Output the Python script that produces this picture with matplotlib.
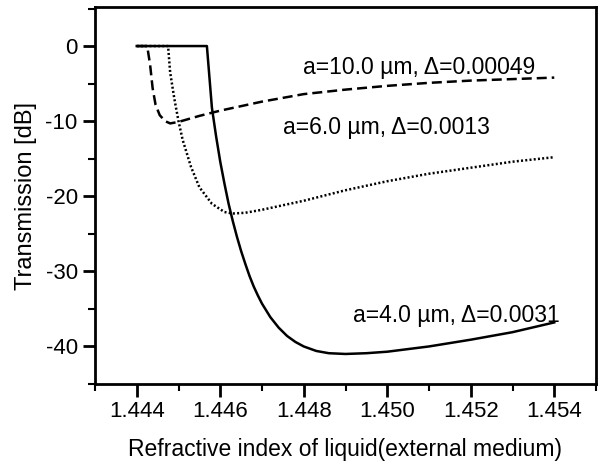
import matplotlib
matplotlib.use("Agg")
import matplotlib.pyplot as plt
from matplotlib.ticker import MultipleLocator

plt.rcParams['font.family'] = ['Liberation Sans', 'DejaVu Sans']
plt.rcParams['axes.unicode_minus'] = False

# a=4.0 um, delta=0.0031 (solid)
n_a4 = [1.4440, 1.44568, 1.4458, 1.4459, 1.4460, 1.4461, 1.4462, 1.4463, 1.4464, 1.4465,
        1.4466, 1.4467, 1.4468, 1.4469, 1.4470, 1.4472, 1.4474, 1.4476, 1.4478, 1.4480,
        1.4483, 1.4486, 1.4490, 1.4495, 1.4500, 1.4510, 1.4520, 1.4530, 1.4540]
t_a4 = [0.0, 0.0, -8.2, -12.0, -15.4, -18.3, -21.0, -23.3, -25.4, -27.3,
        -29.0, -30.6, -32.0, -33.2, -34.3, -36.1, -37.5, -38.6, -39.4, -40.0,
        -40.6, -40.9, -41.0, -40.9, -40.7, -40.0, -39.1, -38.1, -36.8]

# a=10.0 um, delta=0.00049 (dashed)
n_a10 = [1.4440, 1.44425, 1.44432, 1.44438, 1.44445, 1.44455, 1.44468, 1.4448, 1.4450,
         1.4455, 1.4460, 1.4470, 1.4480, 1.4490, 1.4500, 1.4510, 1.4520, 1.4530, 1.4540]
t_a10 = [0.0, 0.0, -2.5, -5.6, -7.8, -9.2, -10.0, -10.3, -10.1,
         -9.3, -8.6, -7.4, -6.4, -5.8, -5.3, -4.9, -4.6, -4.4, -4.2]

# a=6.0 um, delta=0.0013 (dotted)
n_a6 = [1.4440, 1.44475, 1.4448, 1.4449, 1.4450, 1.4451, 1.4453, 1.4455, 1.4458, 1.4461,
        1.4463, 1.4466, 1.4470, 1.4475, 1.4480, 1.4490, 1.4500, 1.4510, 1.4520, 1.4530, 1.4540]
t_a6 = [0.0, 0.0, -3.5, -7.0, -10.0, -12.5, -16.1, -18.8, -21.0, -22.1,
        -22.3, -22.2, -21.8, -21.2, -20.6, -19.2, -18.0, -17.0, -16.2, -15.4, -14.8]

labels = ["a=10.0 \u00b5m, \u0394=0.00049", "a=6.0 \u00b5m, \u0394=0.0013", "a=4.0 \u00b5m, \u0394=0.0031"]
label_pos = [(1.44799, -2.8), (1.44751, -10.8), (1.44919, -35.9)]

xticks = [1.444, 1.446, 1.448, 1.450, 1.452, 1.454]
yticks = [0, -10, -20, -30, -40]

fig = plt.figure(figsize=(6.03, 4.63), dpi=100)
ax = fig.add_axes([95 / 603, 1 - 384 / 463, 501 / 603, 377 / 463])

ax.plot(n_a4, t_a4, color='black', lw=1.8, ls='-')
ax.plot(n_a10, t_a10, color='black', lw=1.8, ls=(0, (4, 2)))
ax.plot(n_a6, t_a6, color='black', lw=1.8, ls=(0, (0.8, 0.9)))

for txt, (x, y) in zip(labels, label_pos):
    ax.text(x, y, txt, fontsize=16.5, ha='left', va='center')

ax.set_xlim(1.443, 1.455)
ax.set_ylim(-45, 5.2)
ax.set_xticks(xticks)
ax.set_xticklabels([f"{v:.3f}" for v in xticks])
ax.set_yticks(yticks)
ax.xaxis.set_minor_locator(MultipleLocator(0.001))
ax.yaxis.set_minor_locator(MultipleLocator(5))
ax.tick_params(which='major', direction='out', length=9, width=2, labelsize=16)
ax.tick_params(which='minor', direction='out', length=5, width=1.5)
for s in ax.spines.values():
    s.set_linewidth(2)

ax.set_xlabel("Refractive index of liquid(external medium)", fontsize=16.5, labelpad=11)
ax.set_ylabel("Transmission [dB]", fontsize=17, labelpad=6)

fig.savefig("out.png", dpi=100)
